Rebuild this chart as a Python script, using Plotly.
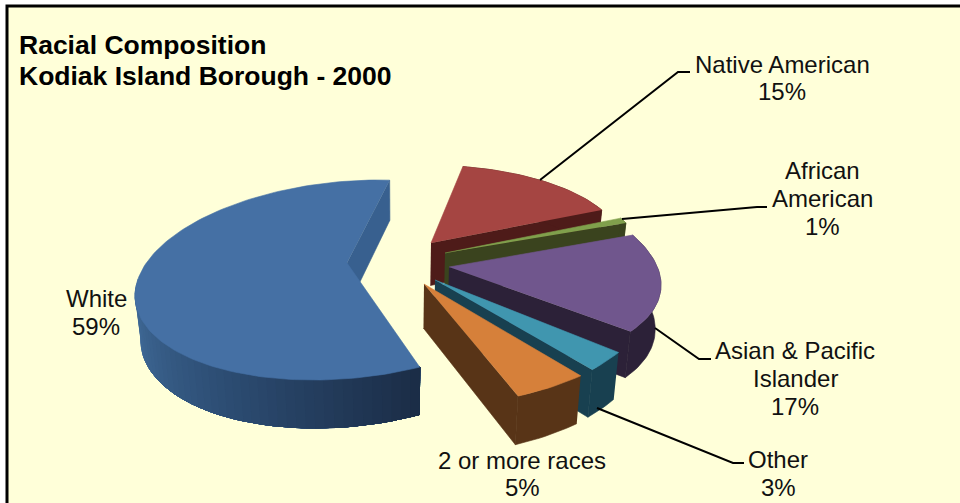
import numpy as np
import plotly.graph_objects as go

# --- data ---
categories = ["White", "Native American", "African American",
              "Asian & Pacific Islander", "Other", "2 or more races"]
values = [59, 15, 1, 17, 3, 5]
title_lines = ["Racial Composition", "Kodiak Island Borough - 2000"]

# --- style ---
top_colors = ["#4570A4", "#A54542", "#80A04C", "#70568D", "#4096AF", "#D6803A"]
wall_colors = ["#38608F", "#4E1B19", "#3A431E", "#2C2138", "#184050", "#583417"]
BG = "#FFFFD9"

# --- fake-3D layout: how each exploded wedge sits on the picture ---
geom = [
    dict(apex=(347, 263), c=(346, 280), R=208, ry=100, s=35, m=1),
    dict(apex=(431, 243), c=(431, 243), R=189, ry=77, s=24, m=11.5),
    dict(apex=(445, 253), c=(445, 253), R=195, ry=81, s=24, m=12),
    dict(apex=(449, 267), c=(449, 267), R=212, ry=95, s=0, m=18),
    dict(apex=(435, 280), c=(435, 280), R=221, ry=122, s=10.6, m=10.8),
    dict(apex=(424, 284), c=(424, 284), R=235.7, ry=121, s=27.6, m=14.6),
]
START_DEG = 87.6


def arc(g, t):
    x = g["c"][0] + g["R"] * np.cos(t) + g["s"] * np.sin(t)
    y = g["c"][1] - g["ry"] * np.sin(t) + g["m"] * np.cos(t)
    return x, y


def drop(x, y):
    x = np.asarray(x, float)
    y = np.asarray(y, float)
    return x - (x - 400) * 0.022, y + 44 + 0.04 * (y - 280)


fig = go.Figure()


def poly(xs, ys, color):
    fig.add_trace(go.Scatter(x=list(xs), y=list(ys), mode="lines", fill="toself",
                             fillcolor=color, line=dict(color=color, width=0.6),
                             hoverinfo="skip", showlegend=False))


def lerp(c1, c2, f):
    a = np.array([int(c1[i:i + 2], 16) for i in (1, 3, 5)])
    b = np.array([int(c2[i:i + 2], 16) for i in (1, 3, 5)])
    v = (a + (b - a) * f).round().astype(int)
    return "#%02X%02X%02X" % tuple(v)


sweeps = np.radians(np.array(values, float) / sum(values) * 360)
t = np.radians(START_DEG)
bounds = [(t + sweeps[0], t)]
for sw in sweeps[1:]:
    bounds.append((t, t - sw))
    t -= sw

for i, (g, (t0, t1)) in enumerate(zip(geom, bounds)):
    n = max(8, int(abs(t0 - t1) * 40))
    ts = np.linspace(t0, t1, n)
    ax, ay = arc(g, ts)
    px, py = g["apex"]

    # flat cut face at the clockwise end of the slice
    bx, by = drop([px, ax[-1]], [py, ay[-1]])
    poly([px, ax[-1], bx[1], bx[0]], [py, ay[-1], by[1], by[0]], wall_colors[i])

    # outer rim wall
    if i == 0:
        rim = np.linspace(np.pi, t0, 46)
        rx, ry = arc(g, rim)
        dx, dy = drop(rx, ry)
        for k in range(len(rim) - 1):
            f = k / (len(rim) - 2)
            col = lerp("#44709F", "#2C4C72", f / 0.55) if f < 0.55 else lerp("#2C4C72", "#1B2D47", (f - 0.55) / 0.45)
            # each band also covers the rest of the rim, so no seams appear
            poly(list(rx[k:]) + list(dx[k:][::-1]), list(ry[k:]) + list(dy[k:][::-1]), col)
    else:
        dx, dy = drop(ax, ay)
        poly(list(ax) + list(dx[::-1]), list(ay) + list(dy[::-1]), wall_colors[i])

    # top face
    poly([px] + list(ax), [py] + list(ay), top_colors[i])

# --- leader lines ---
leaders = [
    ([540, 678, 690], [180, 72, 72]),
    ([622, 757, 767], [219, 207, 207]),
    ([655, 699, 711], [328, 359, 359]),
    ([597, 733, 744], [408, 463, 463]),
]
for lx, ly in leaders:
    fig.add_trace(go.Scatter(x=lx, y=ly, mode="lines", line=dict(color="black", width=2),
                             hoverinfo="skip", showlegend=False))

# --- labels ---
labels = [
    (782, 64, "Native American"), (782, 91, "15%"),
    (822, 170, "African"), (822, 198, "American"), (822, 226, "1%"),
    (795, 350, "Asian &amp; Pacific"), (795, 378, "Islander"), (795, 406, "17%"),
    (778, 459, "Other"), (778, 487, "3%"),
    (522, 460, "2 or more races"), (522, 487, "5%"),
    (96, 298, "White"), (96, 326, "59%"),
]
annotations = [dict(x=x, y=y, xref="x", yref="y", text=s, showarrow=False, xanchor="center",
                    yanchor="middle", font=dict(family="Liberation Sans", size=24, color="#111111"))
               for x, y, s in labels]
for y, s in zip((45, 76), title_lines):
    annotations.append(dict(x=17, y=y, xref="x", yref="y", text="<b>%s</b>" % s, showarrow=False,
                            xanchor="left", yanchor="middle",
                            font=dict(family="Liberation Sans", size=26.5, color="#000000")))

shapes = [
    dict(type="rect", x0=7, y0=6, x1=980, y1=520, fillcolor=BG, line=dict(color="black", width=3),
         layer="below"),
]

fig.update_layout(
    width=960, height=503, margin=dict(l=0, r=0, t=0, b=0), autosize=False,
    paper_bgcolor="#FFFFFF", plot_bgcolor="rgba(0,0,0,0)", showlegend=False,
    xaxis=dict(range=[0, 960], visible=False, fixedrange=True),
    yaxis=dict(range=[503, 0], visible=False, fixedrange=True),
    annotations=annotations, shapes=shapes,
)
fig.write_html("out.html", config={"displayModeBar": False},
               post_script="document.body.style.margin='0';document.body.style.overflow='hidden';")
